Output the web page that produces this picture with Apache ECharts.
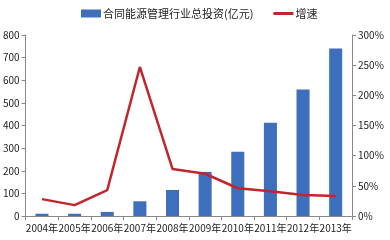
<!DOCTYPE html>
<html><head><meta charset="utf-8">
<script src="https://cdn.jsdelivr.net/npm/echarts@6/dist/echarts.min.js"></script>
<style>html,body{margin:0;padding:0;background:#fff}#c{width:390px;height:240px}</style>
</head><body><div id="c"></div>
<script>
const categories = ['2004年','2005年','2006年','2007年','2008年','2009年','2010年','2011年','2012年','2013年'];
const investment = [10, 10, 18, 65, 115, 195, 284, 412, 559, 740];
const growth = [28, 18, 43, 247, 78, 70, 46, 41, 35, 33];
const leftTicks = {min: 0, max: 800, interval: 100};
const rightTicks = {min: 0, max: 300, interval: 50};
const seriesNames = ['合同能源管理行业总投资(亿元)', '增速'];

const chart = echarts.init(document.getElementById('c'), null, {renderer: 'canvas'});
const font = 'Microsoft YaHei, "Noto Sans CJK SC", sans-serif';
chart.setOption({
  animation: false,
  textStyle: {fontFamily: font},
  legend: {
    top: 3, left: 76, itemGap: 20, itemWidth: 20, itemHeight: 8, symbolKeepAspect: true,
    textStyle: {fontSize: 11, color: '#222', fontFamily: font, padding: [0,0,0,-3]},
    data: [{name: seriesNames[0], icon: 'rect'},
           {name: seriesNames[1], icon: 'path://M0,0L20,0L20,3L0,3Z', itemStyle: {color: '#c0262d'}}]
  },
  grid: {left: 24, right: 38, top: 35, bottom: 24},
  xAxis: {
    type: 'category', data: categories,
    axisLine: {lineStyle: {color: '#888'}},
    axisTick: {show: true, alignWithLabel: false, length: 4, lineStyle: {color: '#888'}},
    axisLabel: {fontSize: 10, color: '#222', margin: 7, interval: 0, fontFamily: font}
  },
  yAxis: [{
    type: 'value', min: leftTicks.min, max: leftTicks.max, interval: leftTicks.interval,
    axisLine: {show: true, lineStyle: {color: '#888'}},
    axisTick: {show: true, length: 4, lineStyle: {color: '#888'}},
    axisLabel: {fontSize: 10, color: '#222', margin: 6},
    splitLine: {show: false}
  }, {
    type: 'value', min: rightTicks.min, max: rightTicks.max, interval: rightTicks.interval,
    axisLine: {show: true, lineStyle: {color: '#888'}},
    axisTick: {show: true, length: 4, lineStyle: {color: '#888'}},
    axisLabel: {fontSize: 10, color: '#222', margin: 6, formatter: '{value}%'},
    splitLine: {show: false}
  }],
  series: [{
    name: seriesNames[0], type: 'bar', data: investment, barWidth: '40%',
    itemStyle: {color: '#3d6fbd'}
  }, {
    name: seriesNames[1], type: 'line', yAxisIndex: 1, data: growth,
    symbol: 'none', lineStyle: {color: '#c0262d', width: 2.5}, itemStyle: {color: '#c0262d'}
  }]
});
</script></body></html>
